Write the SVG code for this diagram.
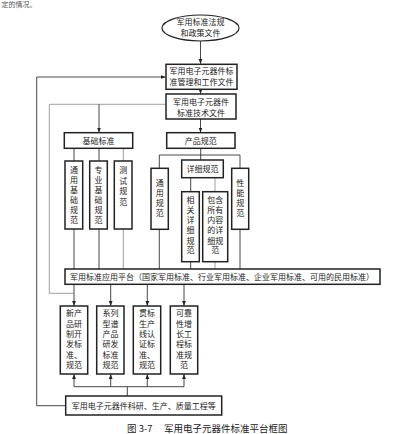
<svg xmlns="http://www.w3.org/2000/svg" width="415" height="434" viewBox="0 0 415 434">
<style>
text{font-family:"Noto Sans CJK SC","Noto Sans CJK JP",sans-serif;font-size:8px;fill:#222;text-anchor:middle}
.box{fill:#fff;stroke:#222;stroke-width:1.5}
.ln{fill:none;stroke:#333;stroke-width:0.9}
.lt{fill:none;stroke:#888;stroke-width:0.8}
.ar{marker-end:url(#ah)}
</style>
<defs>
<marker id="ah" viewBox="0 0 8 8" refX="8" refY="4" markerWidth="5" markerHeight="5" orient="auto" markerUnits="userSpaceOnUse">
<path d="M0,1 L8,4 L0,7 Z" fill="#222"/>
</marker>
</defs>
<rect width="415" height="434" fill="#fff"/>
<text x="19" y="6.5" style="font-size:7px;fill:#555">定的情况。</text>

<g id="connectors">
<path class="ln ar" d="M200.5,41 V64"/>
<path class="ln ar" d="M200.5,89.3 V94"/>
<path class="ln ar" d="M200.5,119 V132.7"/>
<path class="ln ar" d="M66,405.7 H36.7 V77 H165.7"/>
<path class="lt" d="M165.7,104.3 H49.3 V293.3 H74"/>
<path class="ln ar" d="M99,104.3 V132.7"/>
<path class="ln" d="M74,148.3 V161 M99,148.3 V161"/>
<path class="lt" d="M123.3,148.3 V161"/>
<path class="ln" d="M200.7,148.3 V160 M159.3,168.3 V155 H240 V168.3"/>
<path class="ln" d="M190.7,177.7 V191.7"/>
<path class="lt" d="M215,177.7 V191.7"/>
<path class="ln" d="M74,229 V269 M99,229 V269 M159.3,229.3 V269 M190.7,261.7 V269 M240,229.3 V269"/>
<path class="lt" d="M123.3,229 V269 M215,261.7 V269"/>
<path class="ln ar" d="M74,284.3 V306"/>
<path class="ln ar" d="M110.7,284.3 V306"/>
<path class="ln ar" d="M147.3,284.3 V306"/>
<path class="ln ar" d="M184,284.3 V306"/>
<path class="ln" d="M127.3,396 V386.7 M74,386.7 H184"/>
<path class="ln ar" d="M74,386.7 V374"/>
<path class="ln ar" d="M110.7,386.7 V374"/>
<path class="ln ar" d="M147.3,386.7 V374"/>
<path class="ln ar" d="M184,386.7 V374"/>
</g>

<g id="n-law">
<ellipse cx="200.5" cy="28" rx="38.5" ry="13" fill="#fff" stroke="#222" stroke-width="1.2"/>
<text x="200.5" y="24.5">军用标准法规</text>
<text x="200.5" y="35.5">和政策文件</text>
</g>
<g id="n-mgmt">
<rect class="box" x="166" y="64.3" width="71" height="25"/>
<text x="201.5" y="73.8">军用电子元器件标</text>
<text x="201.5" y="84.5">准管理和工作文件</text>
</g>
<g id="n-tech">
<rect class="box" x="166" y="94" width="70" height="25"/>
<text x="201" y="104.5">军用电子元器件</text>
<text x="201" y="116">标准技术文件</text>
</g>
<g id="n-basic">
<rect class="box" x="64.3" y="132.7" width="68.4" height="15.6"/>
<text x="98.5" y="143.6">基础标准</text>
</g>
<g id="n-product">
<rect class="box" x="166.7" y="132.7" width="68.3" height="15.6"/>
<text x="200.8" y="143.6">产品规范</text>
</g>
<g id="n-b1">
<rect class="box" x="65" y="161" width="17.7" height="68"/>
<text x="73.9" y="173">通</text><text x="73.9" y="183">用</text><text x="73.9" y="193">基</text><text x="73.9" y="203">础</text><text x="73.9" y="213">规</text><text x="73.9" y="223">范</text>
</g>
<g id="n-b2">
<rect class="box" x="89.7" y="161" width="17.6" height="68"/>
<text x="98.5" y="173">专</text><text x="98.5" y="183">业</text><text x="98.5" y="193">基</text><text x="98.5" y="203">础</text><text x="98.5" y="213">规</text><text x="98.5" y="223">范</text>
</g>
<g id="n-b3">
<rect class="box" x="114.3" y="161" width="17.7" height="68"/>
<text x="123.2" y="173">测</text><text x="123.2" y="183.5">试</text><text x="123.2" y="194">规</text><text x="123.2" y="204.5">范</text>
</g>
<g id="n-p1">
<rect class="box" x="151" y="168.3" width="17.3" height="61"/>
<text x="159.7" y="186.3">通</text><text x="159.7" y="196.3">用</text><text x="159.7" y="206.3">规</text><text x="159.7" y="216.3">范</text>
</g>
<g id="n-detail">
<rect class="box" x="181.7" y="160" width="41.6" height="17.7"/>
<text x="202.5" y="171.6">详细规范</text>
</g>
<g id="n-p3">
<rect class="box" x="231.7" y="168.3" width="17" height="61"/>
<text x="240.2" y="185.7">性</text><text x="240.2" y="195.7">能</text><text x="240.2" y="205.7">规</text><text x="240.2" y="215.7">范</text>
</g>
<g id="n-d1">
<rect class="box" x="181.7" y="191.7" width="17.6" height="70"/>
<text x="190.5" y="203">相</text><text x="190.5" y="213">关</text><text x="190.5" y="223">详</text><text x="190.5" y="233">细</text><text x="190.5" y="243.5">规</text><text x="190.5" y="253">范</text>
</g>
<g id="n-d2">
<rect class="box" x="202.7" y="191.7" width="25" height="70"/>
<text x="215.2" y="203">包含</text><text x="215.2" y="213">所有</text><text x="215.2" y="223">内容</text><text x="215.2" y="233">的详</text><text x="215.2" y="243.5">细规</text><text x="215.2" y="253">范</text>
</g>
<g id="n-platform">
<rect class="box" x="65" y="269" width="315" height="15.3"/>
<text x="222" y="279.6">军用标准应用平台（国家军用标准、行业军用标准、企业军用标准、可用的民用标准）</text>
</g>
<g id="n-s1">
<rect class="box" x="60.3" y="306" width="27.4" height="68"/>
<text x="74" y="316.3">新产</text><text x="74" y="326.6">品研</text><text x="74" y="336.9">制开</text><text x="74" y="347.2">发标</text><text x="74" y="357.5">准、</text><text x="74" y="367.8">规范</text>
</g>
<g id="n-s2">
<rect class="box" x="96.7" y="306" width="27.3" height="68"/>
<text x="110.4" y="316.3">系列</text><text x="110.4" y="326.6">型谱</text><text x="110.4" y="336.9">产品</text><text x="110.4" y="347.2">研发</text><text x="110.4" y="357.5">标准</text><text x="110.4" y="367.8">规范</text>
</g>
<g id="n-s3">
<rect class="box" x="133.3" y="306" width="27.4" height="68"/>
<text x="147" y="316.3">贯标</text><text x="147" y="326.6">生产</text><text x="147" y="336.9">线认</text><text x="147" y="347.2">证标</text><text x="147" y="357.5">准、</text><text x="147" y="367.8">规范</text>
</g>
<g id="n-s4">
<rect class="box" x="170.3" y="306" width="27.4" height="68"/>
<text x="184" y="316.3">可靠</text><text x="184" y="326.6">性增</text><text x="184" y="336.9">长工</text><text x="184" y="347.2">程标</text><text x="184" y="357.5">准规</text><text x="184" y="367.8">范</text>
</g>
<g id="n-research">
<rect class="box" x="65.7" y="396" width="156" height="19"/>
<text x="143.7" y="408.5">军用电子元器件科研、生产、质量工程等</text>
</g>
<text x="127" y="431.5" style="text-anchor:start;font-size:9.5px">图 3-7　 军用电子元器件标准平台框图</text>
</svg>
